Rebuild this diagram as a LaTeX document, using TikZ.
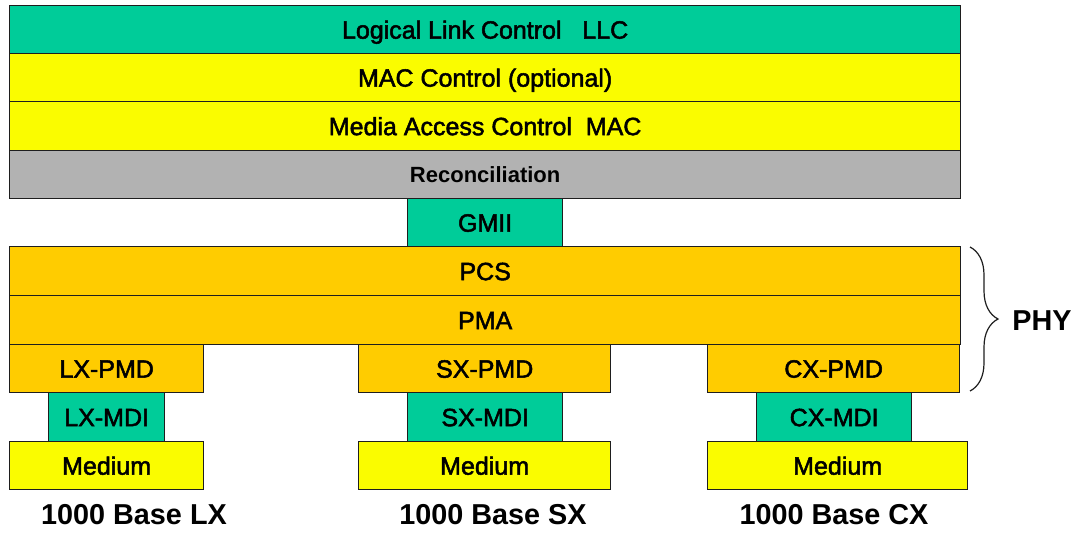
\documentclass[tikz,border=0pt]{standalone}
\usepackage{fontspec}
\setmainfont{Liberation Sans}
\usetikzlibrary{decorations.pathreplacing}
\definecolor{cGreen}{RGB}{0,204,153}
\definecolor{cYellow}{RGB}{250,252,0}
\definecolor{cGray}{RGB}{178,178,178}
\definecolor{cOrange}{RGB}{255,204,0}
\definecolor{cLine}{RGB}{30,30,30}
\tikzset{
  lay/.style={draw=cLine, line width=1.3pt, anchor=north west, inner sep=0pt,
    font=\fontsize{25}{29}\selectfont\addfontfeature{FakeBold=2}, text height=18pt, text depth=0pt},
  lbl/.style={font=\bfseries\fontsize{28.8}{33}\selectfont, inner sep=0pt},
}
\begin{document}
\begin{tikzpicture}[x=1pt,y=-1pt]
\useasboundingbox (0,0) rectangle (1078,533);
% upper stack
\node[lay, fill=cGreen,  minimum width=951pt, minimum height=48pt] (llc)  at (9,5)   {Logical Link Control\ \ \ LLC};
\node[lay, fill=cYellow, minimum width=951pt, minimum height=48pt] (macc) at (9,53)  {MAC Control (optional)};
\node[lay, fill=cYellow, minimum width=951pt, minimum height=49pt] (mac)  at (9,101) {Media Access Control\ \ MAC};
\node[lay, fill=cGray,   minimum width=951pt, minimum height=48pt, font=\bfseries\fontsize{22}{26}\selectfont, text height=15.8pt] (rec) at (9,150) {Reconciliation};
\node[lay, fill=cGreen,  minimum width=155pt, minimum height=48pt] (gmii) at (407,198) {GMII};
% PHY
\node[lay, fill=cOrange, minimum width=951pt, minimum height=49pt] (pcs)  at (9,246) {PCS};
\node[lay, fill=cOrange, minimum width=951pt, minimum height=49pt] (pma)  at (9,295) {PMA};
\node[lay, fill=cOrange, minimum width=194pt, minimum height=48pt] (lxpmd) at (9,344)   {LX-PMD};
\node[lay, fill=cOrange, minimum width=252pt, minimum height=48pt] (sxpmd) at (358,344) {SX-PMD};
\node[lay, fill=cOrange, minimum width=252pt, minimum height=48pt] (cxpmd) at (707,344) {CX-PMD};
% MDI
\node[lay, fill=cGreen, minimum width=116pt, minimum height=49pt] (lxmdi) at (48,392)  {LX-MDI};
\node[lay, fill=cGreen, minimum width=155pt, minimum height=49pt] (sxmdi) at (407,392) {SX-MDI};
\node[lay, fill=cGreen, minimum width=155pt, minimum height=49pt] (cxmdi) at (756,392) {CX-MDI};
% Medium
\node[lay, fill=cYellow, minimum width=194pt, minimum height=48pt] (lxmed) at (9,441)   {Medium};
\node[lay, fill=cYellow, minimum width=252pt, minimum height=48pt] (sxmed) at (358,441) {Medium};
\node[lay, fill=cYellow, minimum width=260pt, minimum height=48pt] (cxmed) at (707,441) {Medium};
% labels
\node[lbl] (lxlbl) at (134,515) {1000 Base LX};
\node[lbl] (sxlbl) at (493,515) {1000 Base SX};
\node[lbl] (cxlbl) at (834,515) {1000 Base CX};
% brace
\coordinate (bt) at (970,247);
\coordinate (bb) at (970,391);
\draw[cLine, line width=1.2pt, decorate, decoration={brace, amplitude=28pt}] (bt) -- (bb);
\node[lbl] (phy) at (1042,321) {PHY};
\end{tikzpicture}
\end{document}
